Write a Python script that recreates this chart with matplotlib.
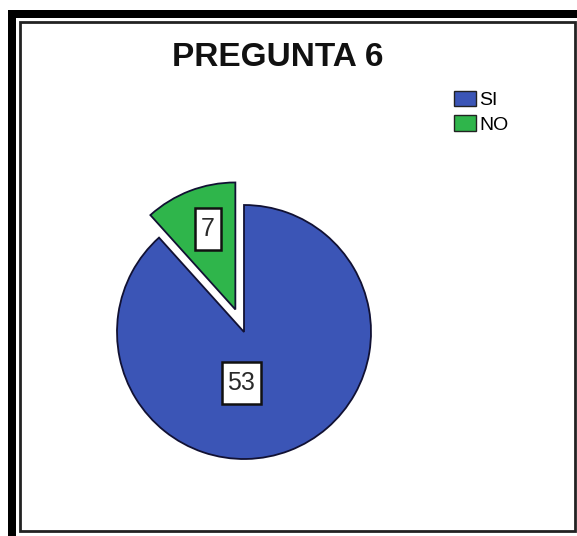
import matplotlib
matplotlib.use("Agg")
import matplotlib.pyplot as plt
from matplotlib.patches import Rectangle
import numpy as np

plt.rcParams['font.family'] = ['Liberation Sans', 'DejaVu Sans']

categories = ["SI", "NO"]
values = [53, 7]
colors = ["#3b55b6", "#2fb54b"]
title = "PREGUNTA 6"

W, H = 577, 536
fig = plt.figure(figsize=(W / 100, H / 100), dpi=100)
fig.patch.set_facecolor("white")

def px_rect(x0, y0, x1, y1, **kw):
    # pixel coords from top-left
    r = Rectangle((x0 / W, 1 - y1 / H), (x1 - x0) / W, (y1 - y0) / H,
                  transform=fig.transFigure, **kw)
    fig.patches.append(r)
    return r

# outer thick frame (left + top)
px_rect(8, 10, 16, 536, facecolor="black", edgecolor="none")
px_rect(8, 10, 577, 18, facecolor="black", edgecolor="none")
# inner thin frame
px_rect(20, 22, 575, 531, facecolor="none", edgecolor="#222222", linewidth=2)

# pie axes: center at (244, 332) px, radius 127 px
cx, cy, R = 244, 332, 127
half = 160
ax = fig.add_axes([(cx - half) / W, (H - cy - half) / H, 2 * half / W, 2 * half / H])
# order: NO first starting at 90 deg counterclockwise, then SI
order = [1, 0]
vals = [values[i] for i in order]
cols = [colors[i] for i in order]
explode = [0.19, 0.0]
wedges, _ = ax.pie(vals, colors=cols, startangle=90, counterclock=True,
                   explode=explode, radius=1.0,
                   wedgeprops=dict(edgecolor="#111133", linewidth=1.3))
lim = half / R
ax.set_xlim(-lim, lim)
ax.set_ylim(-lim, lim)
ax.set_aspect("auto")
ax.axis("off")

# value labels
label_pos = {0: (-0.02, -0.40), 1: (-0.283, 0.81)}
texts = []
for i in range(len(values)):
    x, y = label_pos[i]
    t = ax.text(x, y, str(values[i]), ha="center", va="center", fontsize=18,
                color="#2a2a2a", zorder=5)
    texts.append(t)

fig.canvas.draw()
renderer = fig.canvas.get_renderer()
for t in texts:
    bb = t.get_window_extent(renderer)
    xc = (bb.x0 + bb.x1) / 2
    yc = (bb.y0 + bb.y1) / 2
    bw = bb.width + 12
    bh = 42
    r = Rectangle(((xc - bw / 2) / W, (yc - bh / 2) / H), bw / W, bh / H,
                  transform=fig.transFigure, facecolor="white",
                  edgecolor="#111111", linewidth=1.8, zorder=4)
    ax.add_artist(r)

# title
fig.text(278 / W, 1 - 58 / H, title, ha="center", va="center",
         fontsize=24, fontweight="bold", color="#111111")

# legend
handles = [Rectangle((0, 0), 1, 1, facecolor=c, edgecolor="#222222", linewidth=1)
           for c in colors]
leg = fig.legend(handles, categories, loc="upper left",
                 bbox_to_anchor=(450 / W, 1 - 87 / H), frameon=False,
                 fontsize=14, handlelength=1.15, handleheight=0.85,
                 handletextpad=0.15, labelspacing=0.3, borderpad=0.2,
                 borderaxespad=0)

fig.savefig("out.png", dpi=100, facecolor="white")
